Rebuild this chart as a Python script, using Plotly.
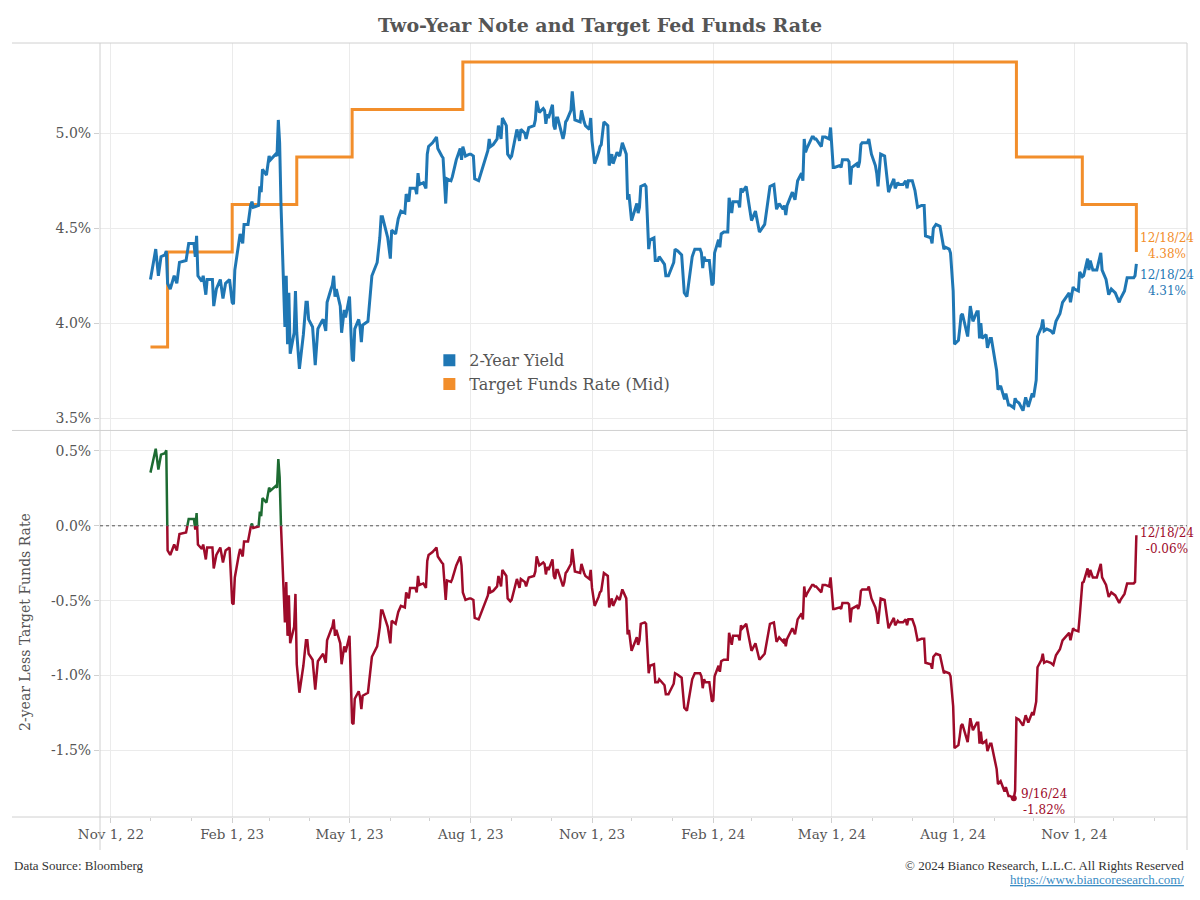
import pandas as pd
import plotly.graph_objects as go

# ---------------- data ----------------
yield_dates = [
    "2022-12-01", "2022-12-05", "2022-12-07", "2022-12-09", "2022-12-12", "2022-12-13", "2022-12-14",
    "2022-12-16", "2022-12-19", "2022-12-21", "2022-12-23", "2022-12-28", "2022-12-30",
    "2023-01-03", "2023-01-04", "2023-01-05", "2023-01-06", "2023-01-09", "2023-01-10", "2023-01-12",
    "2023-01-13", "2023-01-17", "2023-01-18", "2023-01-20", "2023-01-23", "2023-01-25", "2023-01-27",
    "2023-01-30", "2023-02-01", "2023-02-02", "2023-02-03", "2023-02-06", "2023-02-07", "2023-02-09",
    "2023-02-10", "2023-02-13", "2023-02-15", "2023-02-16", "2023-02-17", "2023-02-21", "2023-02-22",
    "2023-02-23", "2023-02-24", "2023-02-27", "2023-03-01", "2023-03-02", "2023-03-06", "2023-03-07",
    "2023-03-08", "2023-03-09", "2023-03-10", "2023-03-13", "2023-03-14", "2023-03-15", "2023-03-16",
    "2023-03-17", "2023-03-20", "2023-03-21", "2023-03-22", "2023-03-24", "2023-03-27", "2023-03-29",
    "2023-03-30", "2023-03-31", "2023-04-03", "2023-04-05", "2023-04-07", "2023-04-10", "2023-04-11",
    "2023-04-13", "2023-04-14", "2023-04-17", "2023-04-18", "2023-04-19", "2023-04-20", "2023-04-21",
    "2023-04-24", "2023-04-25", "2023-04-27", "2023-04-28", "2023-05-01", "2023-05-03", "2023-05-04",
    "2023-05-05", "2023-05-08", "2023-05-09", "2023-05-10", "2023-05-11", "2023-05-15", "2023-05-18",
    "2023-05-22", "2023-05-24", "2023-05-25", "2023-05-26", "2023-05-30", "2023-06-01", "2023-06-02",
    "2023-06-05", "2023-06-06", "2023-06-07", "2023-06-09", "2023-06-12", "2023-06-13", "2023-06-15",
    "2023-06-16", "2023-06-20", "2023-06-21", "2023-06-22", "2023-06-23", "2023-06-26", "2023-06-28",
    "2023-06-29", "2023-06-30", "2023-07-03", "2023-07-06", "2023-07-07", "2023-07-10", "2023-07-11",
    "2023-07-13", "2023-07-14", "2023-07-17", "2023-07-18", "2023-07-20", "2023-07-21", "2023-07-24",
    "2023-07-25", "2023-07-26", "2023-07-28", "2023-07-31", "2023-08-01", "2023-08-03", "2023-08-04",
    "2023-08-07", "2023-08-10", "2023-08-14", "2023-08-15", "2023-08-16", "2023-08-18", "2023-08-21",
    "2023-08-22", "2023-08-24", "2023-08-25", "2023-08-28", "2023-08-29", "2023-08-31", "2023-09-01",
    "2023-09-05", "2023-09-07", "2023-09-08", "2023-09-11", "2023-09-12", "2023-09-14", "2023-09-18",
    "2023-09-19", "2023-09-20", "2023-09-22", "2023-09-25", "2023-09-26", "2023-09-27", "2023-09-28",
    "2023-09-29", "2023-10-02", "2023-10-03", "2023-10-04", "2023-10-05", "2023-10-06", "2023-10-10",
    "2023-10-11", "2023-10-12", "2023-10-13", "2023-10-16", "2023-10-17", "2023-10-18", "2023-10-19",
    "2023-10-23", "2023-10-24", "2023-10-26", "2023-10-27", "2023-10-30", "2023-10-31", "2023-11-01",
    "2023-11-03", "2023-11-06", "2023-11-07", "2023-11-08", "2023-11-10", "2023-11-13", "2023-11-14",
    "2023-11-16", "2023-11-17", "2023-11-20", "2023-11-21", "2023-11-22", "2023-11-24", "2023-11-27",
    "2023-11-28", "2023-11-29", "2023-12-01", "2023-12-04", "2023-12-05", "2023-12-06", "2023-12-07",
    "2023-12-08", "2023-12-11", "2023-12-12", "2023-12-13", "2023-12-14", "2023-12-15", "2023-12-18",
    "2023-12-19", "2023-12-21", "2023-12-22", "2023-12-26", "2023-12-27", "2023-12-29",
    "2024-01-02", "2024-01-03", "2024-01-05", "2024-01-08", "2024-01-10", "2024-01-12", "2024-01-16",
    "2024-01-18", "2024-01-22", "2024-01-23", "2024-01-24", "2024-01-25", "2024-01-26", "2024-01-29",
    "2024-01-31", "2024-02-01", "2024-02-02", "2024-02-05", "2024-02-06", "2024-02-07", "2024-02-09",
    "2024-02-12", "2024-02-13", "2024-02-15", "2024-02-16", "2024-02-20", "2024-02-21", "2024-02-22",
    "2024-02-23", "2024-02-26", "2024-02-28", "2024-03-01", "2024-03-04", "2024-03-05", "2024-03-07",
    "2024-03-11", "2024-03-13", "2024-03-15", "2024-03-18", "2024-03-20", "2024-03-22", "2024-03-25",
    "2024-03-26", "2024-03-27", "2024-03-28", "2024-04-01", "2024-04-02", "2024-04-03", "2024-04-05",
    "2024-04-08", "2024-04-09", "2024-04-10", "2024-04-11", "2024-04-12", "2024-04-16", "2024-04-17",
    "2024-04-18", "2024-04-19", "2024-04-23", "2024-04-24", "2024-04-26", "2024-04-29", "2024-04-30",
    "2024-05-02", "2024-05-03", "2024-05-07", "2024-05-08", "2024-05-09", "2024-05-13", "2024-05-14",
    "2024-05-15", "2024-05-16", "2024-05-20", "2024-05-21", "2024-05-22", "2024-05-23", "2024-05-24",
    "2024-05-28", "2024-05-29", "2024-05-31", "2024-06-03", "2024-06-04", "2024-06-05", "2024-06-07",
    "2024-06-10", "2024-06-12", "2024-06-13", "2024-06-14", "2024-06-17", "2024-06-18", "2024-06-20",
    "2024-06-21", "2024-06-24", "2024-06-26", "2024-06-27", "2024-06-28", "2024-07-01", "2024-07-03",
    "2024-07-05", "2024-07-08", "2024-07-10", "2024-07-11", "2024-07-15", "2024-07-16", "2024-07-17",
    "2024-07-19", "2024-07-22", "2024-07-24", "2024-07-25", "2024-07-26", "2024-07-29", "2024-07-30",
    "2024-08-01", "2024-08-02", "2024-08-05", "2024-08-06", "2024-08-07", "2024-08-08", "2024-08-09",
    "2024-08-12", "2024-08-14", "2024-08-16", "2024-08-19", "2024-08-20", "2024-08-21", "2024-08-22",
    "2024-08-23", "2024-08-26", "2024-08-27", "2024-08-29", "2024-08-30", "2024-09-03", "2024-09-04",
    "2024-09-06", "2024-09-09", "2024-09-10", "2024-09-12", "2024-09-13", "2024-09-16", "2024-09-17",
    "2024-09-18", "2024-09-20", "2024-09-23", "2024-09-24", "2024-09-25", "2024-09-27", "2024-09-30",
    "2024-10-01", "2024-10-02", "2024-10-03", "2024-10-04", "2024-10-07", "2024-10-08", "2024-10-09",
    "2024-10-11", "2024-10-14", "2024-10-16", "2024-10-18", "2024-10-21", "2024-10-23", "2024-10-25",
    "2024-10-28", "2024-10-29", "2024-10-31", "2024-11-01", "2024-11-04", "2024-11-05", "2024-11-07",
    "2024-11-08", "2024-11-11", "2024-11-12", "2024-11-13", "2024-11-15", "2024-11-18", "2024-11-21",
    "2024-11-22", "2024-11-25", "2024-11-27", "2024-11-29", "2024-12-02", "2024-12-05", "2024-12-06",
    "2024-12-09", "2024-12-11", "2024-12-16", "2024-12-17", "2024-12-18",
]
yield_values = [
    4.23, 4.39, 4.25, 4.35, 4.36, 4.38, 4.21,
    4.18, 4.25, 4.21, 4.32, 4.33, 4.42,
    4.42, 4.35, 4.46, 4.25, 4.22, 4.25, 4.15,
    4.23, 4.23, 4.09, 4.18, 4.23, 4.13, 4.21,
    4.23, 4.11, 4.10, 4.28, 4.43, 4.47, 4.42,
    4.52, 4.52, 4.62, 4.64, 4.61, 4.62, 4.72,
    4.69, 4.81, 4.78, 4.88, 4.86, 4.89, 4.88,
    5.07, 4.95, 4.63, 3.98, 4.25, 3.89, 4.16,
    3.84, 3.95, 4.17, 3.95, 3.76, 3.94, 4.11,
    4.11, 4.02, 3.98, 3.78, 3.97, 4.01, 4.02,
    3.96, 4.11, 4.18, 4.20, 4.25, 4.14, 4.18,
    4.09, 3.95, 4.07, 4.03, 4.14, 3.81, 3.80,
    3.97, 4.02, 3.98, 3.90, 3.99, 4.01, 4.25,
    4.32, 4.45, 4.56, 4.56, 4.45, 4.34, 4.49,
    4.47, 4.51, 4.55, 4.59, 4.58, 4.68, 4.64,
    4.71, 4.71, 4.68, 4.79, 4.73, 4.74, 4.71,
    4.89, 4.93, 4.95, 4.98, 4.92, 4.88, 4.87,
    4.63, 4.76, 4.75, 4.77, 4.83, 4.86, 4.92,
    4.86, 4.93, 4.88, 4.89, 4.89, 4.88, 4.76,
    4.75, 4.82, 4.91, 4.97, 4.93, 4.94, 4.97,
    5.04, 4.97, 5.08, 5.04, 4.89, 4.87, 4.88,
    5.02, 4.96, 5.02, 5.00, 4.97, 5.03, 5.04,
    5.07, 5.17, 5.11, 5.13, 5.12, 5.05, 5.10,
    5.08, 5.15, 5.04, 5.02, 5.08, 5.08, 4.97,
    5.00, 5.06, 5.07, 5.12, 5.22, 5.15, 5.07,
    5.06, 5.12, 5.06, 5.04, 5.02, 5.08, 4.96,
    4.84, 4.90, 4.93, 4.94, 5.06, 5.04, 4.83,
    4.89, 4.84, 4.90, 4.89, 4.88, 4.95, 4.89,
    4.65, 4.68, 4.54, 4.60, 4.63, 4.58, 4.61,
    4.72, 4.73, 4.72, 4.55, 4.39, 4.44, 4.45,
    4.33, 4.33, 4.35, 4.31, 4.25, 4.25,
    4.32, 4.39, 4.38, 4.36, 4.16, 4.14, 4.35,
    4.39, 4.39, 4.37, 4.29, 4.35, 4.33, 4.33,
    4.20, 4.21, 4.37, 4.44, 4.40, 4.47, 4.48,
    4.48, 4.66, 4.58, 4.64, 4.64, 4.61, 4.71,
    4.69, 4.72, 4.63, 4.54, 4.59, 4.55, 4.48,
    4.52, 4.63, 4.72, 4.73, 4.60, 4.63, 4.60,
    4.62, 4.57, 4.62, 4.69, 4.67, 4.65, 4.75,
    4.79, 4.75, 4.97, 4.90, 4.92, 4.98, 4.98,
    4.97, 4.97, 4.93, 4.98, 4.98, 4.97, 5.03,
    4.82, 4.82, 4.83, 4.82, 4.86, 4.86, 4.85,
    4.73, 4.82, 4.84, 4.82, 4.85, 4.94, 4.95,
    4.95, 4.97, 4.89, 4.83, 4.79, 4.72, 4.89,
    4.88, 4.77, 4.69, 4.71, 4.76, 4.71, 4.74,
    4.73, 4.73, 4.75, 4.71, 4.75, 4.75, 4.70,
    4.61, 4.62, 4.62, 4.46, 4.45, 4.42, 4.50,
    4.52, 4.51, 4.43, 4.39, 4.40, 4.39, 4.37,
    4.17, 3.89, 3.91, 3.97, 4.04, 4.05, 4.02,
    3.93, 4.09, 4.01, 4.06, 4.06, 3.92, 4.00,
    3.92, 3.94, 3.87, 3.92, 3.92, 3.75, 3.65,
    3.67, 3.60, 3.63, 3.57, 3.57, 3.555, 3.605,
    3.59, 3.58, 3.54, 3.57, 3.61, 3.56, 3.63,
    3.61, 3.65, 3.70, 3.93, 3.98, 4.02, 3.96,
    3.97, 3.96, 3.945, 4.01, 4.05, 4.11, 4.13,
    4.16, 4.11, 4.19, 4.18, 4.17, 4.27, 4.245,
    4.25, 4.34, 4.28, 4.33, 4.28, 4.28, 4.37,
    4.28, 4.23, 4.15, 4.18, 4.16, 4.11, 4.13,
    4.17, 4.24, 4.24, 4.25, 4.312,
]

# Target fed funds rate (mid-point) change dates and levels
fed_dates = ["2022-12-01", "2022-12-14", "2023-02-01", "2023-03-22", "2023-05-03",
             "2023-07-26", "2024-09-18", "2024-11-07", "2024-12-18"]
fed_mid = [3.875, 4.375, 4.625, 4.875, 5.125, 5.375, 4.875, 4.625, 4.375]

top_tickvals = [3.5, 4.0, 4.5, 5.0]
top_ticktext = ["3.5%", "4.0%", "4.5%", "5.0%"]
bot_tickvals = [-1.5, -1.0, -0.5, 0.0, 0.5]
bot_ticktext = ["-1.5%", "-1.0%", "-0.5%", "0.0%", "0.5%"]
x_tickvals = ["2022-11-01", "2023-02-01", "2023-05-01", "2023-08-01", "2023-11-01",
              "2024-02-01", "2024-05-01", "2024-08-01", "2024-11-01"]
x_ticktext = ["Nov 1, 22", "Feb 1, 23", "May 1, 23", "Aug 1, 23", "Nov 1, 23",
              "Feb 1, 24", "May 1, 24", "Aug 1, 24", "Nov 1, 24"]

# ---------------- derived ----------------
BLUE = "#1f77b4"
ORANGE = "#f28e2b"
RED = "#9e0b2a"
GREEN = "#1d6b32"
TXT = "#555555"
GRID = "#ebebeb"
FRAME = "#d0d0d0"
SERIF = "Georgia, 'DejaVu Serif', serif"
FOOT = "'Liberation Serif', serif"

yd = pd.to_datetime(yield_dates)
fd = pd.to_datetime(fed_dates)
target_at = [fed_mid[fd.searchsorted(d, side="right") - 1] for d in yd]
spread = [y - t for y, t in zip(yield_values, target_at)]

sx, sy = [], []
for i in range(len(yd)):
    if i > 0:
        s0, s1 = spread[i - 1], spread[i]
        if (s0 > 0 > s1) or (s0 < 0 < s1):
            frac = s0 / (s0 - s1)
            sx.append(yd[i - 1] + (yd[i] - yd[i - 1]) * frac)
            sy.append(0.0)
    sx.append(yd[i])
    sy.append(spread[i])
red_y = [v if v <= 0 else None for v in sy]
green_y = [v if v >= 0 else None for v in sy]

imin = min(range(len(spread)), key=lambda k: spread[k])

fig = go.Figure()
fig.add_trace(go.Scatter(x=fed_dates, y=fed_mid, mode="lines", line=dict(color=ORANGE, width=3, shape="hv"),
                         xaxis="x", yaxis="y", showlegend=False, hoverinfo="skip"))
fig.add_trace(go.Scatter(x=yd, y=yield_values, mode="lines", line=dict(color=BLUE, width=3),
                         xaxis="x", yaxis="y", showlegend=False, hoverinfo="skip"))
fig.add_trace(go.Scatter(x=sx, y=red_y, mode="lines", line=dict(color=RED, width=2.5),
                         xaxis="x2", yaxis="y2", showlegend=False, hoverinfo="skip"))
fig.add_trace(go.Scatter(x=sx, y=green_y, mode="lines", line=dict(color=GREEN, width=2.5),
                         xaxis="x2", yaxis="y2", showlegend=False, hoverinfo="skip"))
fig.add_trace(go.Scatter(x=[yd[imin]], y=[spread[imin]], mode="markers",
                         marker=dict(color=RED, size=6), xaxis="x2", yaxis="y2",
                         showlegend=False, hoverinfo="skip"))
# legend entries
fig.add_trace(go.Scatter(x=[None], y=[None], mode="markers", name="2-Year Yield",
                         marker=dict(symbol="square", color=BLUE, size=14), xaxis="x", yaxis="y"))
fig.add_trace(go.Scatter(x=[None], y=[None], mode="markers", name="Target Funds Rate (Mid)",
                         marker=dict(symbol="square", color=ORANGE, size=14), xaxis="x", yaxis="y"))

xrange = ["2022-10-23T17:00", "2025-01-25T10:00"]
common_x = dict(range=xrange, type="date", tickmode="array", tickvals=x_tickvals, ticktext=x_ticktext,
                showgrid=True, gridcolor=GRID, gridwidth=1, zeroline=False, showline=False)

fig.update_layout(
    width=1200, height=900,
    margin=dict(l=100, r=13, t=43, b=83),
    paper_bgcolor="white", plot_bgcolor="white",
    font=dict(family=SERIF, color=TXT, size=14),
    title=dict(text="<b>Two-Year Note and Target Fed Funds Rate</b>", x=0.5, xref="container",
               xanchor="center", y=1 - 25 / 900, yref="container", yanchor="middle",
               font=dict(family=SERIF, size=19, color=TXT)),
    xaxis=dict(**common_x, domain=[0, 1], anchor="y", matches="x2", showticklabels=False, ticks=""),
    xaxis2=dict(**common_x, domain=[0, 1], anchor="y2", showticklabels=True, ticks="outside",
                ticklen=5, tickcolor=FRAME, tickfont=dict(size=13.5, color=TXT),
                minor=dict(tickmode="linear", tick0="2022-11-01", dtick="M1", ticks="outside",
                           ticklen=3, tickcolor=FRAME, showgrid=False)),
    yaxis=dict(domain=[0.5, 1], range=[3.438, 5.475], tickmode="array", tickvals=top_tickvals,
               ticktext=top_ticktext, showgrid=True, gridcolor=GRID, zeroline=False, showline=False,
               ticks="outside", ticklen=5, tickcolor=FRAME, tickfont=dict(size=14, color=TXT)),
    yaxis2=dict(domain=[0, 0.4987], range=[-1.945, 0.633], tickmode="array", tickvals=bot_tickvals,
                ticktext=bot_ticktext, showgrid=True, gridcolor=GRID, zeroline=False, showline=False,
                ticks="outside", ticklen=5, tickcolor=FRAME, tickfont=dict(size=14, color=TXT)),
    legend=dict(x=0.303, y=0.612, xanchor="left", yanchor="top", bgcolor="rgba(0,0,0,0)",
                font=dict(family=SERIF, size=16, color=TXT), tracegroupgap=0, itemsizing="constant"),
    showlegend=True,
)

# frame lines
line = dict(color=FRAME, width=1)
xl = -88 / 1087
yb = -33 / 774
shapes = [
    dict(type="line", xref="paper", yref="paper", x0=xl, x1=1, y0=1, y1=1, line=line),
    dict(type="line", xref="paper", yref="paper", x0=xl, x1=1, y0=0.4994, y1=0.4994, line=line),
    dict(type="line", xref="paper", yref="paper", x0=xl, x1=1, y0=0, y1=0, line=line),
    dict(type="line", xref="paper", yref="paper", x0=0, x1=0, y0=yb, y1=1, line=line),
    dict(type="line", xref="paper", yref="paper", x0=1, x1=1, y0=yb, y1=1, line=line),
    dict(type="line", xref="x2 domain", yref="y2", x0=0, x1=1, y0=0, y1=0,
         line=dict(color="#555555", width=1, dash="dot")),
]
fig.update_layout(shapes=shapes)

last = yd[-1]
ann = [
    dict(x=last, y=fed_mid[-1], xref="x", yref="y", text="12/18/24<br>%.2f%%" % fed_mid[-1],
         showarrow=False, xanchor="left", yanchor="middle", xshift=2, yshift=6, align="center",
         font=dict(size=12, color=ORANGE, family=SERIF)),
    dict(x=last, y=yield_values[-1], xref="x", yref="y", text="12/18/24<br>%.2f%%" % yield_values[-1],
         showarrow=False, xanchor="left", yanchor="middle", xshift=2, yshift=-19, align="center",
         font=dict(size=12, color=BLUE, family=SERIF)),
    dict(x=last, y=spread[-1], xref="x2", yref="y2", text="12/18/24<br>%.2f%%" % spread[-1],
         showarrow=False, xanchor="left", yanchor="middle", xshift=2, yshift=-6, align="center",
         font=dict(size=12, color=RED, family=SERIF)),
    dict(x=yd[imin], y=spread[imin], xref="x2", yref="y2",
         text="%d/%d/%s<br>%.2f%%" % (yd[imin].month, yd[imin].day, str(yd[imin].year)[2:], spread[imin]),
         showarrow=False, xanchor="left", yanchor="middle", xshift=5, yshift=-4, align="center",
         font=dict(size=12, color=RED, family=SERIF)),
    dict(x=-75 / 1087, y=0.252, xref="paper", yref="paper", text="2-year Less Target Funds Rate",
         showarrow=False, textangle=-90, xanchor="center", yanchor="middle",
         font=dict(size=14, color=TXT, family=SERIF)),
    dict(x=-88 / 1087, y=-48 / 774, xref="paper", yref="paper", text="Data Source: Bloomberg",
         showarrow=False, xanchor="left", yanchor="middle", font=dict(size=13, color="#333333", family=FOOT)),
    dict(x=1086 / 1087, y=-48 / 774, xref="paper", yref="paper",
         text="© 2024 Bianco Research, L.L.C. All Rights Reserved",
         showarrow=False, xanchor="right", yanchor="middle", font=dict(size=13, color="#333333", family=FOOT)),
    dict(x=1086 / 1087, y=-63 / 774, xref="paper", yref="paper",
         text="<u>https://www.biancoresearch.com/</u>",
         showarrow=False, xanchor="right", yanchor="middle", font=dict(size=13, color="#3a8cc4", family=FOOT)),
]
fig.update_layout(annotations=ann)

fig.write_html("out.html", config={"displayModeBar": False},
               post_script="document.body.style.margin='0px';document.body.style.overflow='hidden';")
